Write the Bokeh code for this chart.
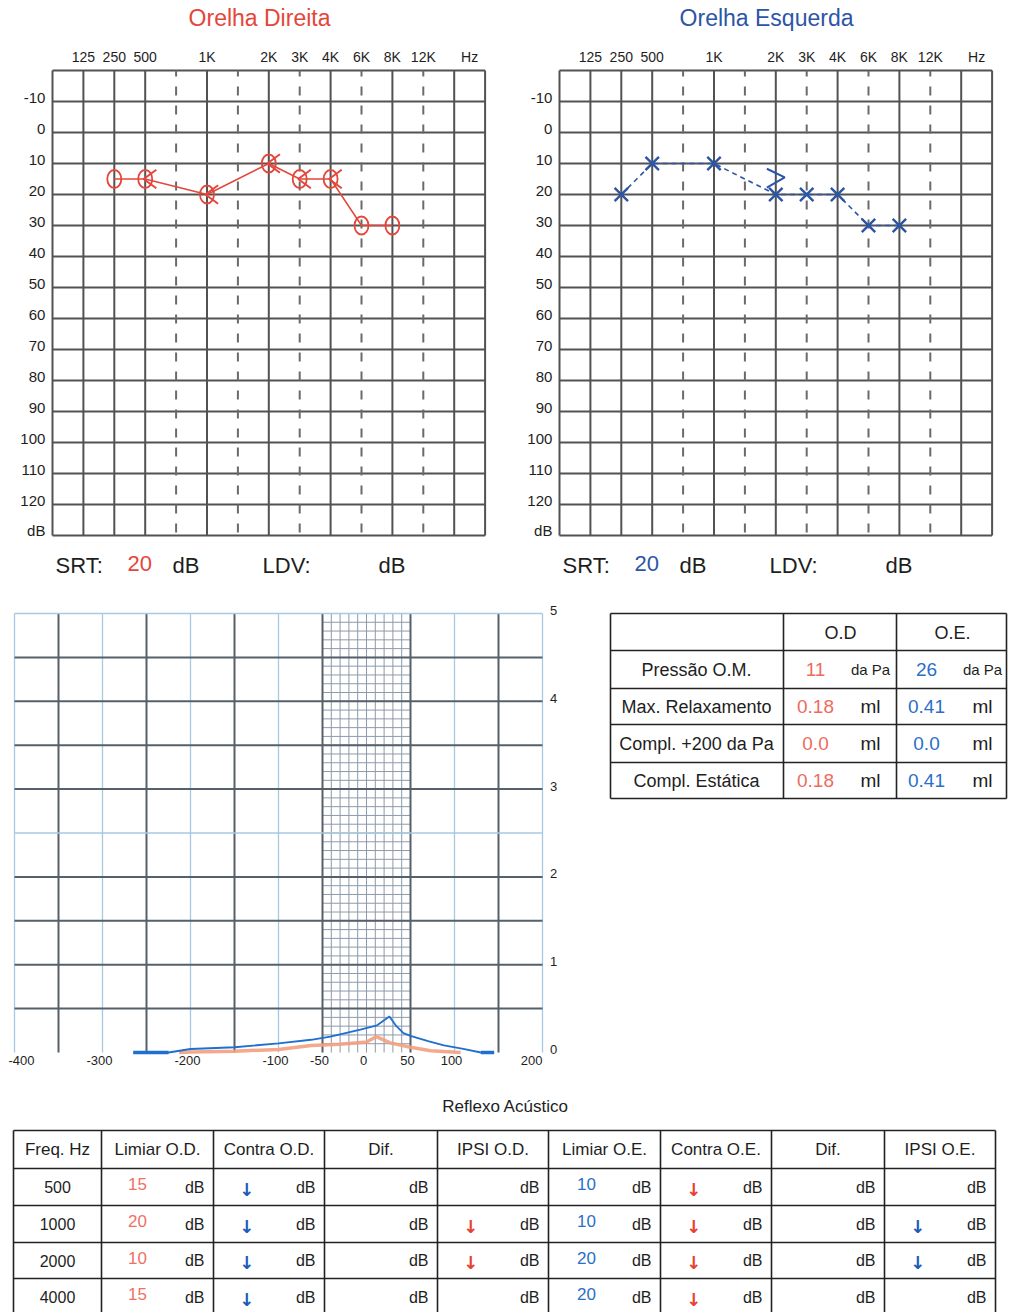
from bokeh.plotting import figure
from bokeh.layouts import column, row
from bokeh.models import Range1d
from bokeh.core.properties import value
from bokeh.embed import file_html
from bokeh.resources import INLINE

FONT = value("Liberation Sans")
RED = "#e5463a"
BLUE = "#2d55a6"
GRID = "#525252"
TXT = "#1e1e1e"

# ---------------- data ----------------
freq_tick_hz = [125, 250, 500, 1000, 2000, 3000, 4000, 6000, 8000, 12000]
freq_tick_labels = ["125", "250", "500", "1K", "2K", "3K", "4K", "6K", "8K", "12K"]
db_ticks = [-10, 0, 10, 20, 30, 40, 50, 60, 70, 80, 90, 100, 110, 120]

test_freqs = [250, 500, 1000, 2000, 3000, 4000, 6000, 8000]
od_air_db = [15, 15, 20, 10, 15, 15, 30, 30]
oe_air_db = [20, 10, 10, 20, 20, 20, 30, 30]
od_bone_freqs = [500, 1000, 2000, 3000, 4000]
od_bone_db = [15, 20, 10, 15, 15]
oe_bone_freqs = [2000]
oe_bone_db = [15]
srt_od = "20"
srt_oe = "20"

# tympanogram
tymp_x_ticks = [-400, -300, -200, -100, -50, 0, 50, 100, 200]
tymp_y_ticks = [0, 1, 2, 3, 4, 5]
oe_pressure = [-265, -225, -200, -150, -100, -63, -41, -7, 12, 26, 34, 42, 50, 70, 88, 110, 130, 145]
oe_compliance = [0, 0, 0.04, 0.06, 0.105, 0.145, 0.18, 0.26, 0.31, 0.41, 0.30, 0.22, 0.19, 0.13, 0.08, 0.04, 0.0, 0.0]
od_pressure = [-213, -200, -150, -100, -63, -30, 0, 11, 20, 27, 50, 73, 107]
od_compliance = [0, 0.005, 0.015, 0.035, 0.08, 0.095, 0.12, 0.18, 0.14, 0.11, 0.06, 0.02, 0.0]

# tympanometry table
tymp_rows = ["Pressão O.M.", "Max. Relaxamento", "Compl. +200 da Pa", "Compl. Estática"]
tymp_units = ["da Pa", "ml", "ml", "ml"]
tymp_od = ["11", "0.18", "0.0", "0.18"]
tymp_oe = ["26", "0.41", "0.0", "0.41"]

# acoustic reflex table
reflex_headers = ["Freq. Hz", "Limiar O.D.", "Contra O.D.", "Dif.", "IPSI O.D.",
                  "Limiar O.E.", "Contra O.E.", "Dif.", "IPSI O.E."]
reflex_freqs = ["500", "1000", "2000", "4000"]
limiar_od = ["15", "20", "10", "15"]
limiar_oe = ["10", "10", "20", "20"]
contra_od = [True, True, True, True]
ipsi_od = [False, True, True, False]
contra_oe = [True, True, True, True]
ipsi_oe = [False, True, True, False]

# ---------------- layout constants ----------------
COL = {125: 1, 250: 2, 500: 3, 750: 4, 1000: 5, 1500: 6, 2000: 7,
       3000: 8, 4000: 9, 6000: 10, 8000: 11, 12000: 12}
SOLID_COLS = [0, 1, 2, 3, 5, 7, 9, 11, 13, 14]
DASH_COLS = [4, 6, 8, 10, 12]
TOP_H = 590
MID_H = 492
BOT_H = 230
TOTAL_W = 1012


def mkfig(w, h, xr, yr):
    p = figure(width=w, height=h, x_range=xr, y_range=yr, output_backend="svg",
               toolbar_location=None, tools="", min_border=0,
               x_axis_type=None, y_axis_type=None)
    p.outline_line_color = None
    p.background_fill_color = "white"
    p.border_fill_color = "white"
    return p


def txt(p, x, y, t, size, color=TXT, align="center", baseline="middle", **kw):
    p.text(x=x, y=y, text=t, text_font=FONT, text_font_size=size, text_color=color,
           text_align=align, text_baseline=baseline, **kw)


def audiogram(title, color, fig_left, grid_left, width, air, bone_f, bone, bone_dir, marker, srt):
    px, py = 30.9, 3.1
    height = TOP_H
    gtop = 70
    x0 = (fig_left - grid_left) / px
    x1 = (fig_left + width - grid_left) / px
    ytop = -20 + (0 - gtop) / py
    ybot = -20 + (height - gtop) / py
    p = mkfig(width, height, Range1d(x0, x1), Range1d(ybot, ytop))

    hl = list(range(-20, 131, 10))
    p.segment(x0=[0] * len(hl), y0=hl, x1=[14] * len(hl), y1=hl, line_color=GRID, line_width=2)
    p.segment(x0=SOLID_COLS, y0=[-20] * len(SOLID_COLS), x1=SOLID_COLS, y1=[130] * len(SOLID_COLS),
              line_color=GRID, line_width=2)
    p.segment(x0=DASH_COLS, y0=[-20] * len(DASH_COLS), x1=DASH_COLS, y1=[130] * len(DASH_COLS),
              line_color="#6a6a6a", line_width=2, line_dash="9 10", line_dash_offset=3)

    # tick labels
    txt(p, [-0.23] * len(db_ticks), db_ticks, [str(v) for v in db_ticks], "15px",
        align="right", y_offset=-4)
    txt(p, [-0.23], [130], ["dB"], "15px", align="right", y_offset=-5)
    txt(p, [COL[f] for f in freq_tick_hz], [-24.2] * len(freq_tick_hz), freq_tick_labels, "14px")
    txt(p, [13.5], [-24.2], ["Hz"], "14px")
    txt(p, [6.7], [-36.8], [title], "23px", color=color)

    xs = [COL[f] for f in test_freqs]
    if marker == "o":
        p.line(xs, air, line_color=color, line_width=1.5)
        p.ellipse(x=xs, y=air, width=14, height=18, width_units="screen", height_units="screen",
                  fill_color=None, line_color=color, line_width=1.8)
    else:
        p.line(xs, air, line_color=color, line_width=1.6, line_dash="5 4")
        p.scatter(xs, air, marker="x", size=19, line_color=color, line_width=2.4)

    bx = [COL[f] for f in bone_f]
    if bone_dir == "<":
        mxs = [[x + 0.36, x - 0.05, x + 0.36] for x in bx]
        mys = [[y - 3.0, y, y + 3.0] for y in bone]
    else:
        mxs = [[x - 0.29, x + 0.29, x - 0.29] for x in bx]
        mys = [[y - 3.3, y - 0.5, y + 2.8] for y in bone]
    p.multi_line(xs=mxs, ys=mys, line_color=color, line_width=2)

    ys = 139.7
    txt(p, [0.1], [ys], ["SRT:"], "22px", align="left")
    txt(p, [2.43], [ys], [srt], "22px", color=color, align="left", y_offset=-2)
    txt(p, [3.88], [ys], ["dB"], "22px", align="left")
    txt(p, [6.8], [ys], ["LDV:"], "22px", align="left")
    txt(p, [10.55], [ys], ["dB"], "22px", align="left")
    return p


fa = audiogram("Orelha Direita", RED, 0, 52, 508, od_air_db, od_bone_freqs, od_bone_db, "<", "o", srt_od)
fb = audiogram("Orelha Esquerda", BLUE, 508, 559, TOTAL_W - 508, oe_air_db, oe_bone_freqs, oe_bone_db, ">", "x", srt_oe)

# ---------------- tympanogram ----------------
# page mapping: x = 366 + 0.88 * daPa ; y = 1052 - 87.8 * ml
tp_w = 578
tp = mkfig(tp_w, MID_H, Range1d((0 - 366) / 0.88, (tp_w - 366) / 0.88),
           Range1d((1052 - (TOP_H + MID_H)) / 87.8, (1052 - TOP_H) / 87.8))
DARK = "#56606a"
LIGHT = "#a9c9e2"
FINE = "#8c9aab"
fine_v = list(range(-40, 41, 10))
tp.segment(x0=fine_v, y0=[0] * len(fine_v), x1=fine_v, y1=[5] * len(fine_v), line_color=FINE, line_width=1)
fine_h = [round(i * 0.1, 2) for i in range(1, 50)]
tp.segment(x0=[-50] * len(fine_h), y0=fine_h, x1=[50] * len(fine_h), y1=fine_h, line_color=FINE, line_width=1)
dark_v = [-350, -250, -150, -50, 50, 150]
light_v = [-400, -300, -200, -100, 100, 200]
tp.segment(x0=light_v, y0=[0] * 6, x1=light_v, y1=[5] * 6, line_color=LIGHT, line_width=1.3)
tp.segment(x0=dark_v, y0=[0] * 6, x1=dark_v, y1=[5] * 6, line_color=DARK, line_width=2)
dark_h = [4.5, 4, 3.5, 3, 2, 1.5, 1, 0.5]
light_h = [5, 2.5]
tp.segment(x0=[-400] * len(light_h), y0=light_h, x1=[200] * len(light_h), y1=light_h, line_color=LIGHT, line_width=1.3)
tp.segment(x0=[-400] * len(dark_h), y0=dark_h, x1=[200] * len(dark_h), y1=dark_h, line_color=DARK, line_width=2)

tp.line(od_pressure, od_compliance, line_color="#f4a080", line_width=3.5, line_alpha=0.9)
tp.line(oe_pressure, oe_compliance, line_color="#1f6fd0", line_width=1.8)
tp.line(oe_pressure[:2], oe_compliance[:2], line_color="#1f6fd0", line_width=3.5)
tp.line(oe_pressure[-2:], oe_compliance[-2:], line_color="#1f6fd0", line_width=3.5)

mid = tymp_x_ticks[1:-1]
txt(tp, mid, [-0.09] * len(mid), [str(v) for v in mid], "13px", x_offset=-3)
txt(tp, [tymp_x_ticks[0]], [-0.09], [str(tymp_x_ticks[0])], "13px", align="left", x_offset=-6)
txt(tp, [tymp_x_ticks[-1]], [-0.09], [str(tymp_x_ticks[-1])], "13px", align="right")
txt(tp, [212.5] * len(tymp_y_ticks), tymp_y_ticks, [str(v) for v in tymp_y_ticks], "13px", y_offset=-3)

# ---------------- tympanometry table ----------------
td_w = TOTAL_W - tp_w
td = mkfig(td_w, MID_H, Range1d(tp_w, TOTAL_W), Range1d(TOP_H + MID_H, TOP_H))
tcols = [610, 783, 896, 1006]
trows = [613, 650, 688, 724, 762, 798]
td.segment(x0=tcols, y0=[613] * 4, x1=tcols, y1=[798] * 4, line_color="#222", line_width=1.6)
td.segment(x0=[610] * 6, y0=trows, x1=[1006] * 6, y1=trows, line_color="#222", line_width=1.6)
txt(td, [840, 952], [632, 632], ["O.D", "O.E."], "18px")
rc = [(trows[i + 1] + trows[i + 2]) / 2 for i in range(4)]
txt(td, [696] * 4, rc, tymp_rows, "18px")
txt(td, [815] * 4, rc, tymp_od, "19px", color="#ee6b5f")
txt(td, [926] * 4, rc, tymp_oe, "19px", color="#2a6fc9")
u_sizes = ["15px" if u == "da Pa" else "19px" for u in tymp_units]
for i, u in enumerate(tymp_units):
    txt(td, [870, 982], [rc[i], rc[i]], [u, u], u_sizes[i])

# ---------------- acoustic reflex table ----------------
y_top_e = TOP_H + MID_H
te = mkfig(TOTAL_W, BOT_H, Range1d(0, TOTAL_W), Range1d(y_top_e + BOT_H, y_top_e))
ecols = [13, 101, 213, 324, 437, 548, 660, 771, 884, 995]
erows = [1130, 1168, 1205, 1242, 1278, 1315]
te.segment(x0=ecols, y0=[1130] * len(ecols), x1=ecols, y1=[1315] * len(ecols), line_color="#222", line_width=1.6)
te.segment(x0=[13] * len(erows), y0=erows, x1=[995] * len(erows), y1=erows, line_color="#222", line_width=1.6)
txt(te, [505], [1106], ["Reflexo Acústico"], "17px")
hc = [(ecols[i] + ecols[i + 1]) / 2 for i in range(9)]
txt(te, hc, [1149] * 9, reflex_headers, "17px")
ry = [(erows[i + 1] + erows[i + 2]) / 2 for i in range(4)]
txt(te, [hc[0]] * 4, ry, reflex_freqs, "16px")
txt(te, [ecols[1] + 36] * 4, ry, limiar_od, "17px", color="#ef7064", y_offset=-3)
txt(te, [ecols[5] + 38] * 4, ry, limiar_oe, "17px", color="#2a6fc9", y_offset=-3)
for c in range(1, 9):
    txt(te, [ecols[c + 1] - 9] * 4, ry, ["dB"] * 4, "16px", align="right")


def arrows(col, flags, color):
    ys_ = [ry[i] for i, f in enumerate(flags) if f]
    if ys_:
        te.text(x=[ecols[col] + 33] * len(ys_), y=ys_, text=["↓"] * len(ys_),
                text_font=value("DejaVu Sans"), text_font_style="bold", text_font_size="18px",
                text_color=color, text_align="center", text_baseline="middle", y_offset=2)


arrows(2, contra_od, "#1c5bb5")
arrows(4, ipsi_od, "#e8402f")
arrows(6, contra_oe, "#e8402f")
arrows(8, ipsi_oe, "#1c5bb5")

layout = column(row(fa, fb, spacing=0), row(tp, td, spacing=0), te, spacing=0)
open("out.html", "w").write(file_html(layout, INLINE))
